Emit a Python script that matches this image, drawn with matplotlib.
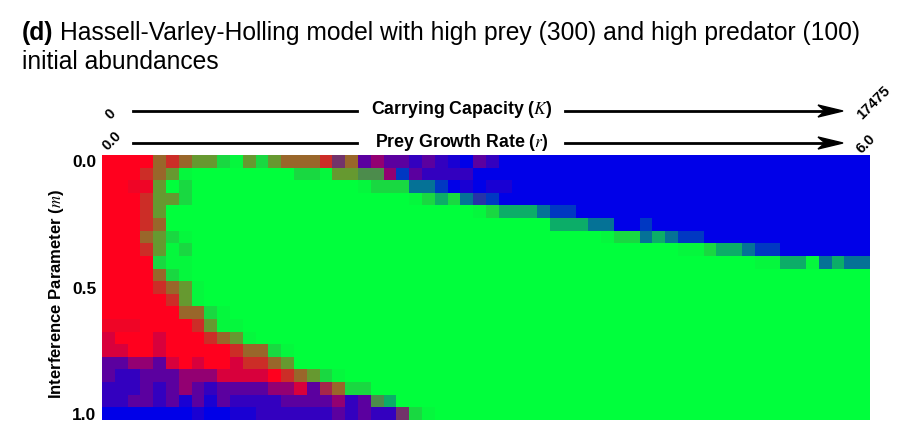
import numpy as np
import matplotlib
matplotlib.use('Agg')
import matplotlib.pyplot as plt

plt.rcParams['font.family'] = ['Liberation Sans', 'DejaVu Sans']
plt.rcParams['mathtext.fontset'] = 'stix'

W, H = 909, 440

# share of runs ending in (prey only, coexistence, neither) for each code
outcomes = {
    'R': (1.00, 0.00, 0.00),
    'e': (0.94, 0.02, 0.04),
    'c': (0.85, 0.00, 0.15),
    'm': (0.58, 0.00, 0.42),
    'V': (0.36, 0.00, 0.64),
    'v': (0.20, 0.00, 0.80),
    'w': (0.10, 0.00, 0.90),
    'a': (0.65, 0.15, 0.20),
    'p': (0.45, 0.20, 0.35),
    'r': (0.80, 0.18, 0.02),
    'o': (0.60, 0.40, 0.00),
    'h': (0.40, 0.60, 0.00),
    'k': (0.30, 0.55, 0.15),
    'g': (0.10, 0.85, 0.05),
    'n': (0.02, 0.97, 0.01),
    'G': (0.00, 1.00, 0.00),
    't': (0.05, 0.68, 0.27),
    'T': (0.02, 0.45, 0.53),
    'u': (0.15, 0.20, 0.65),
    'b': (0.00, 0.22, 0.78),
    'B': (0.00, 0.00, 1.00),
}

# one string per m value, one code per r value, last code repeats to the edge
rows = [
    'RRRRorohhgnhghooorpoVmVVvVvwBVvB',
    'RRRrohnGGGGGGGGggnhhkkmbVvvvvB',
    'RReehGg' + 'G' * 13 + 'ngggTTbBwBwwB',
    'RRRrhhg' + 'G' * 17 + 'ngtgTubB',
    'RRRrh' + 'G' * 24 + 'ngtttTbbB',
    'RRRro' + 'G' * 30 + 'tttTTBBbB',
    'RRRohgn' + 'G' * 32 + 'nggTtTbbB',
    'RRRrhng' + 'G' * 38 + 'nngttTbbB',
    'RRRRgnn' + 'G' * 44 + 'nnttnTtTT',
    'RRRRogn' + 'G',
    'RRRRrohn' + 'G',
    'RRRRRrhn' + 'G',
    'RRRRRRoogn' + 'G',
    'eeeRRRRrhnnG',
    'cRRRcRRRrohnG',
    'ccRRcRRRRRroognG',
    'VVmmVcRcRRcrrohG',
    'VvvVVVmmmccccRrohgnG',
    'vvvVvVmVvVVVVmmcVaoggG',
    'vvVVvVwVwVvvvvVVVVmvVktG',
    'BBBBBBBwBBwwvvvvvvVvVvvpgnG',
]
n_cols = 60

m_ticks = [0.0, 0.5, 1.0]
m_labels = ['0.0', '0.5', '1.0']

red = np.array([255, 0, 30]) / 255
green = np.array([0, 255, 60]) / 255
blue = np.array([0, 0, 232]) / 255

shares = np.array([[outcomes[c] for c in row.ljust(n_cols, row[-1])] for row in rows])
img = shares[..., 0:1] * red + shares[..., 1:2] * green + shares[..., 2:3] * blue


def fx(x):
    return x / W


def fy(y):
    return 1 - y / H


fig = plt.figure(figsize=(W / 100, H / 100), dpi=100)
ax = fig.add_axes([fx(102), fy(420), 768 / W, 265 / H])
ax.imshow(img, aspect='auto', interpolation='nearest', extent=[0, 6, 1.025, -0.025])
ax.set_xticks([])
ax.set_yticks(m_ticks)
ax.set_yticklabels(m_labels, fontsize=12.5, fontweight='bold')
ax.tick_params(axis='y', length=0, pad=4)
for s in ax.spines.values():
    s.set_visible(False)

fig.text(fx(57), fy(294), 'Interference Parameter ($m$)', rotation=90, fontsize=12,
         fontweight='bold', ha='center', va='center')

# title
fig.text(fx(22), fy(40), '(d)', fontsize=17.75, fontweight='bold', ha='left', va='baseline')
fig.text(fx(60), fy(40), 'Hassell-Varley-Holling model with high prey (300) and high predator (100)',
         fontsize=17.75, ha='left', va='baseline')
fig.text(fx(22), fy(69), 'initial abundances', fontsize=17.75, ha='left', va='baseline')

# axis arrows above the map
for y, label, xmid in [(111, 'Carrying Capacity ($K$)', 462),
                       (143, 'Prey Growth Rate ($r$)', 462)]:
    fig.text(fx(xmid), fy(y - 1), label, fontsize=12.8, fontweight='bold', ha='center', va='center')
    fig.add_artist(plt.Line2D([fx(133), fx(357)], [fy(y), fy(y)], color='black', lw=2,
                              transform=fig.transFigure))
    fig.add_artist(plt.Line2D([fx(565), fx(825)], [fy(y), fy(y)], color='black', lw=2,
                              transform=fig.transFigure))
    fig.add_artist(plt.Polygon([[fx(843), fy(y)], [fx(818), fy(y - 6)], [fx(825), fy(y)],
                                [fx(818), fy(y + 6)]], closed=True, color='black',
                               transform=fig.transFigure))

for x, y, label in [(110, 114, '0'), (112, 141, '0.0'), (874, 103, '17475'), (866, 144, '6.0')]:
    fig.text(fx(x), fy(y), label, rotation=45, fontsize=10.5, fontweight='bold',
             ha='center', va='center')

fig.savefig('out.png', dpi=100)
